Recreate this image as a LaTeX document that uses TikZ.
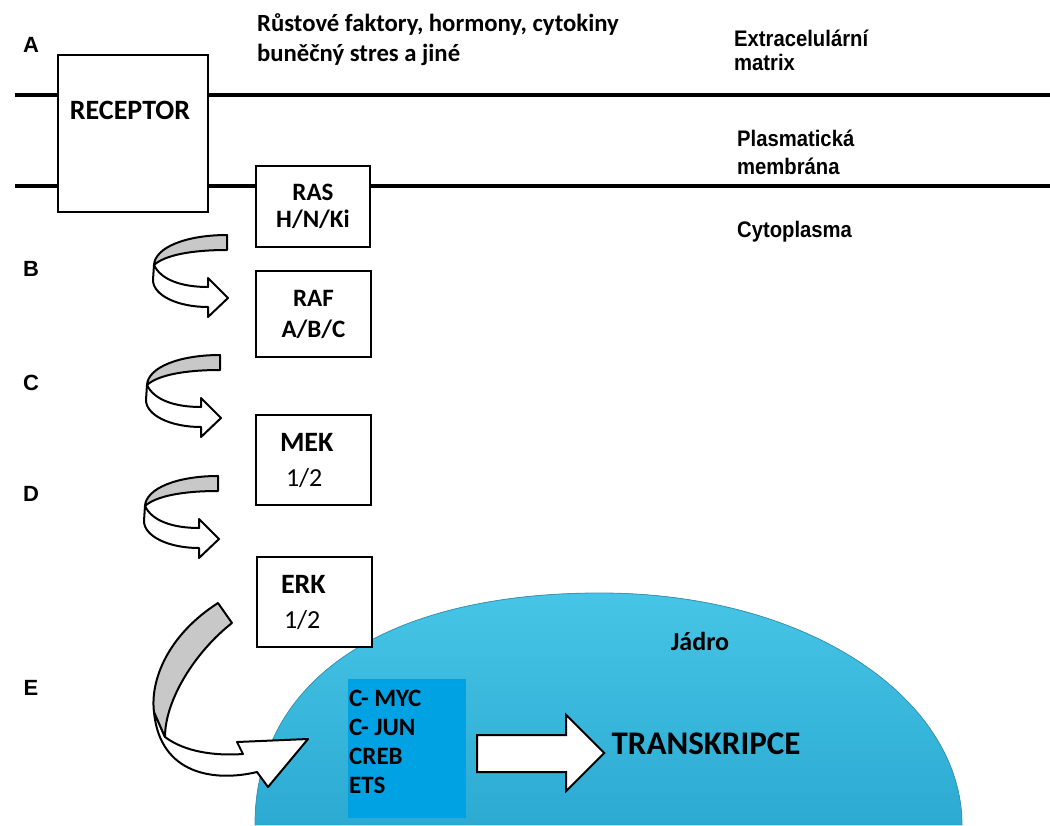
\documentclass[tikz,border=0pt]{standalone}
\usepackage{fontspec}
\usepackage{xcolor}
\usepackage{tikz}
\newfontfamily\calibri{Carlito}
\newfontfamily\arialf{Liberation Sans}

\definecolor{nucleustop}{RGB}{70,197,230}
\definecolor{nucleusbottom}{RGB}{44,170,210}
\definecolor{nucleusedge}{RGB}{58,150,182}
\definecolor{genefill}{RGB}{0,162,228}
\definecolor{ribbongray}{RGB}{200,200,200}

\tikzset{
	kinbox/.style={draw, fill=white, line width=2pt, align=center, inner sep=0pt},
	membrane/.style={line width=3.5pt},
	ribbon/.style={draw, line width=2pt, line join=round},
	layerlabel/.style={anchor=west, align=left, inner sep=0pt, font=\arialf\bfseries\fontsize{22.5}{24}\selectfont},
	steplabel/.style={inner sep=0pt, font=\arialf\bfseries\fontsize{22}{26}\selectfont},
}

\begin{document}
\begin{tikzpicture}[x=1pt, y=-1pt]
	\useasboundingbox (0,0) rectangle (1050,825);
	
	% membrána
	\draw[membrane] (15,95) -- (1050,95);
	\draw[membrane] (15,186) -- (1050,186);
	
	% jádro
	\fill[top color=nucleustop, bottom color=nucleusbottom] (255,825) .. controls (255,680) and (385,593) .. (600,593) .. controls (810,593) and (962,700) .. (962,825) -- cycle;
	\draw[nucleusedge, line width=0.8pt] (255,825) .. controls (255,680) and (385,593) .. (600,593) .. controls (810,593) and (962,700) .. (962,825);
	
	% receptor a kinázy
	\node[kinbox, minimum width=150pt, minimum height=157pt] (receptor) at (133,133.5) {};
	\node[font=\calibri\bfseries\fontsize{28}{32}\selectfont, inner sep=0pt] (receptortext) at (130,110) {RECEPTOR};
	\node[kinbox, minimum width=114pt, minimum height=81pt, font=\calibri\bfseries\fontsize{25}{27}\selectfont] (ras) at (313,206.5) {RAS\\H/N/Ki};
	\node[kinbox, minimum width=115pt, minimum height=86pt, font=\calibri\bfseries\fontsize{25}{31}\selectfont] (raf) at (313.5,314) {RAF\\A/B/C};
	\node[kinbox, minimum width=115pt, minimum height=90pt, text width=67pt, inner xsep=24pt, align=left, font=\calibri\bfseries\fontsize{28}{35}\selectfont] (mek) at (313.5,460) {MEK\\{\mdseries\fontsize{26}{35}\selectfont\hspace{6pt}1/2}};
	\node[kinbox, minimum width=115pt, minimum height=90pt, text width=67pt, inner xsep=24pt, align=left, font=\calibri\bfseries\fontsize{28}{35}\selectfont] (erk) at (314.5,602) {ERK\\{\mdseries\fontsize{26}{35}\selectfont\hspace{3pt}1/2}};
	
	% popisky
	\node[anchor=west, align=left, inner sep=0pt, font=\calibri\bfseries\fontsize{24.7}{30}\selectfont] (signals) at (257,40) {Růstové faktory, hormony, cytokiny\\buněčný stres a jiné};
	\node[layerlabel] (ecm) at (734,50) {\scalebox{0.9}[1]{Extracelulární}\\\scalebox{0.9}[1]{matrix}};
	\node[layerlabel, font=\arialf\bfseries\fontsize{22.5}{28}\selectfont] (pm) at (737,152) {\scalebox{0.9}[1]{Plasmatická}\\\scalebox{0.9}[1]{membrána}};
	\node[layerlabel] (cyto) at (737,232) {\scalebox{0.9}[1]{Cytoplasma}};
	\foreach \name/\y in {A/45, B/269, C/383, D/494, E/688}
		\node[steplabel] (step\name) at (31,\y) {\name};
	
	% šipky mezi kinázami
	\foreach \x/\y in {227/235, 220/355, 218/476}{
		\begin{scope}[shift={(\x,\y)}]
			% přední strana
			\draw[ribbon, fill=white] (-73,30) .. controls (-66,45) and (-45,52) .. (-19,52) -- (-19,43) -- (1,63) -- (-19,82) -- (-19,72) .. controls (-50,72) and (-74,60) .. (-74,45) -- cycle;
			% zadní strana
			\draw[ribbon, fill=ribbongray] (0,0) .. controls (-40,0) and (-72,12) .. (-73,30) .. controls (-62,20) and (-35,15) .. (0,15) -- cycle;
		\end{scope}
	}
	
	% ERK -> jádro
	\draw[ribbon, fill=white] (165,737) .. controls (185,752) and (215,756) .. (243,754) -- (237,742) -- (308,739) -- (268,787) -- (257,772) .. controls (215,782) and (160,775) .. (154,712) -- cycle;
	\draw[ribbon, fill=ribbongray] (218,603) -- (232,623) .. controls (195,652) and (165,700) .. (165,737) -- (154,712) .. controls (150,680) and (168,635) .. (218,603) -- cycle;
	
	% transkripční faktory
	\node[fill=genefill, minimum width=118pt, minimum height=139pt, inner sep=0pt] (genes) at (407,748.5) {};
	\node[anchor=north west, align=left, inner sep=0pt, font=\calibri\bfseries\fontsize{25}{29}\selectfont] (genelist) at (349,690) {C- MYC\\C- JUN\\CREB\\ETS};
	\begin{scope}[shift={(genes.east)}]
		\draw[ribbon, fill=white, line join=miter] (11,-13.5) -- (100,-13.5) -- (100,-33.5) -- (138,4.5) -- (100,42.5) -- (100,23.5) -- (11,23.5) -- cycle;
	\end{scope}
	\node[inner sep=0pt, font=\calibri\bfseries\fontsize{33}{38}\selectfont] (transcription) at (706,744) {TRANSKRIPCE};
	\node[inner sep=0pt, font=\calibri\bfseries\fontsize{26}{28}\selectfont] (nucleuslabel) at (700,641) {Jádro};
\end{tikzpicture}
\end{document}
